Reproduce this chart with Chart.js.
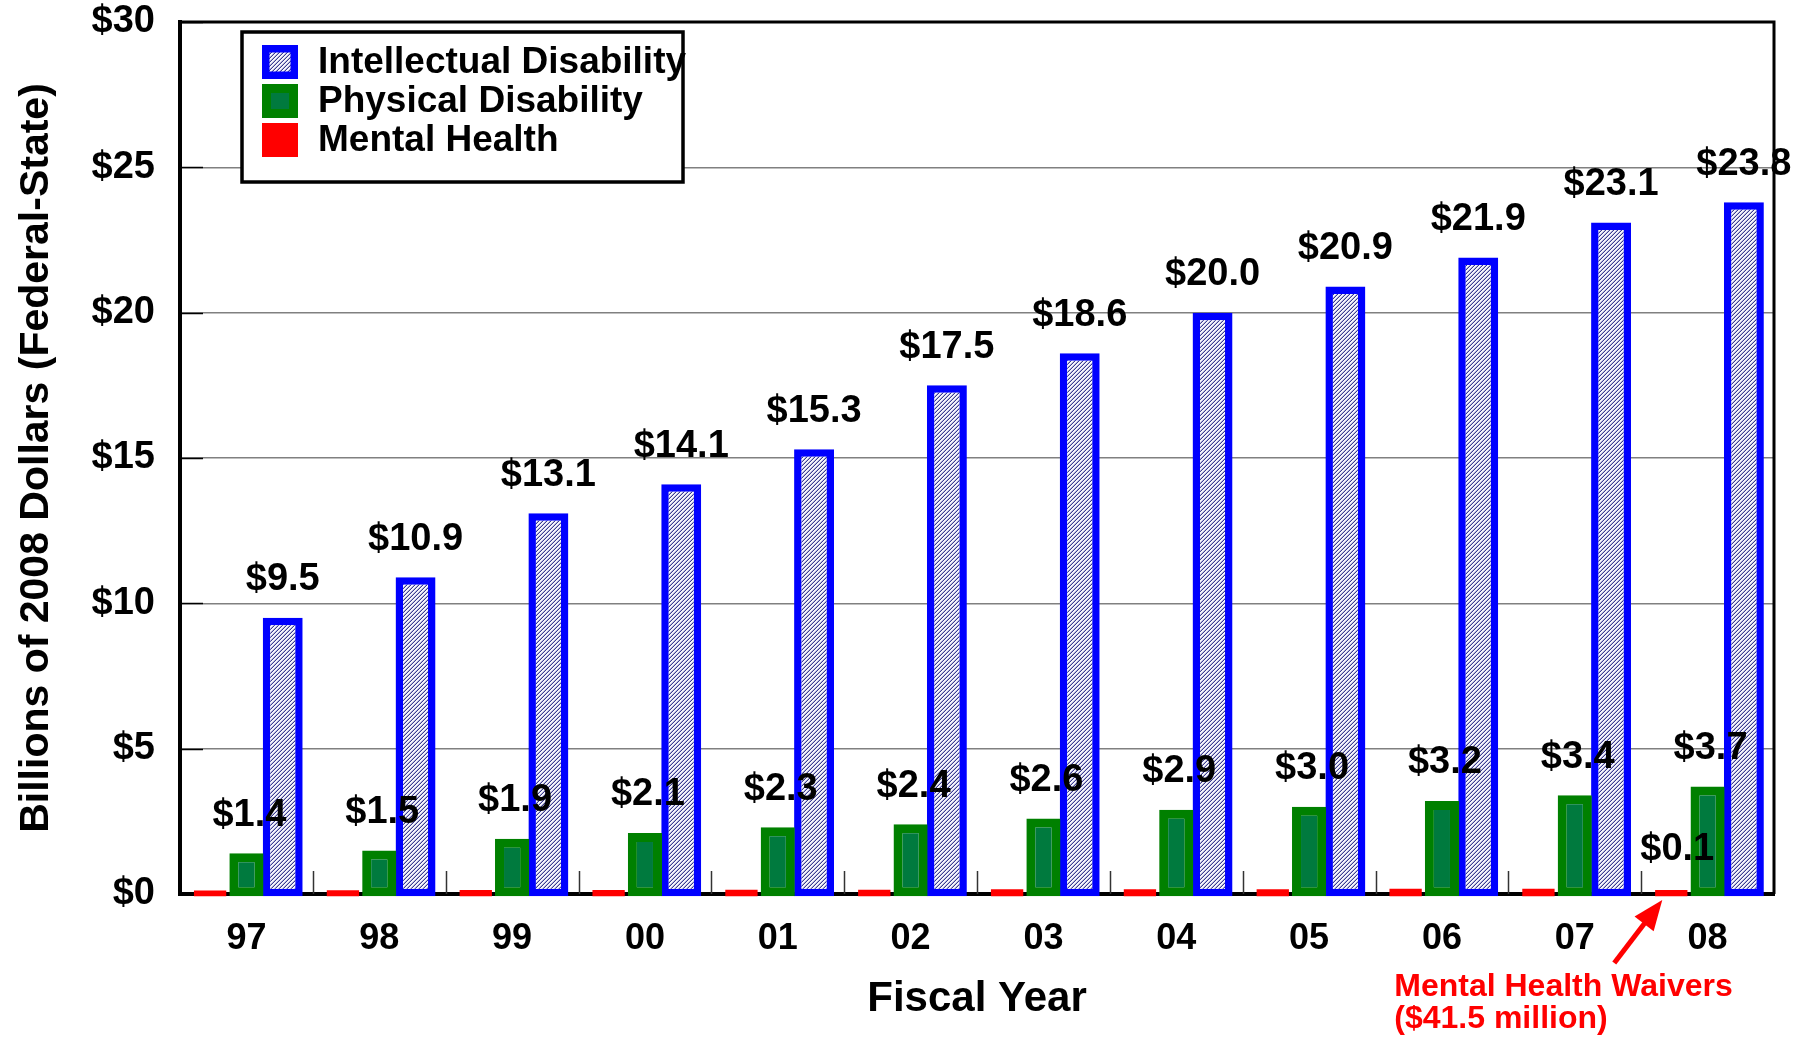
<!DOCTYPE html>
<html>
<head>
<meta charset="utf-8">
<title>Waiver spending by target group</title>
<script src="https://cdn.jsdelivr.net/npm/chart.js@4.4.1/dist/chart.umd.min.js"></script>
<style>
  html, body { margin: 0; padding: 0; background: #fff; }
  canvas { display: block; }
</style>
</head>
<body>
<canvas id="waiverChart" width="1806" height="1038"></canvas>
<script>
// data (billions of 2008 dollars)
const years = ['97', '98', '99', '00', '01', '02', '03', '04', '05', '06', '07', '08'];
const intellectual = [9.5, 10.9, 13.1, 14.1, 15.3, 17.5, 18.6, 20.0, 20.9, 21.9, 23.1, 23.8];
const physical = [1.4, 1.5, 1.9, 2.1, 2.3, 2.4, 2.6, 2.9, 3.0, 3.2, 3.4, 3.7];
const mental = [0.12, 0.13, 0.14, 0.14, 0.15, 0.15, 0.16, 0.16, 0.16, 0.18, 0.18, 0.14];
const yMax = 30;
const yStep = 5;
const noteLines = ['Mental Health Waivers', '($41.5 million)'];

Chart.defaults.font.family = "'Liberation Sans', Arial, sans-serif";
Chart.defaults.color = '#000';

// blue hatch fill like the original ////
function hatchPattern() {
    const c = document.createElement('canvas');
    c.width = 4;
    c.height = 4;
    const g = c.getContext('2d');
    const img = g.createImageData(4, 4);
    for (let py = 0; py < 4; py++) {
        for (let px = 0; px < 4; px++) {
            const k = (px + py) % 4;
            let col = [245, 245, 252];
            if (k === 3) col = [60, 60, 145];
            else if (k === 2) col = [180, 180, 215];
            const i = (py * 4 + px) * 4;
            img.data[i] = col[0];
            img.data[i + 1] = col[1];
            img.data[i + 2] = col[2];
            img.data[i + 3] = 255;
        }
    }
    g.putImageData(img, 0, 0);
    return g.createPattern(c, 'repeat');
}

const hatch = hatchPattern();
const boldFont = (size) => "bold " + size + "px 'Liberation Sans', Arial, sans-serif";

const decorations = {
    id: 'decorations',
    beforeDatasetsDraw(chart) {
        const { ctx, chartArea: area, scales: { x, y } } = chart;
        ctx.save();
        // short inner ticks on the value axis
        ctx.strokeStyle = '#000';
        ctx.lineWidth = 1.5;
        y.ticks.forEach(t => {
            const py = Math.round(y.getPixelForValue(t.value)) + 0.5;
            ctx.beginPath();
            ctx.moveTo(area.left, py);
            ctx.lineTo(area.left + 23, py);
            ctx.stroke();
        });
        // separators between years
        ctx.strokeStyle = '#333';
        for (let i = 1; i < years.length; i++) {
            const px = Math.round((x.getPixelForValue(i - 1) + x.getPixelForValue(i)) / 2) + 0.5;
            ctx.beginPath();
            ctx.moveTo(px, area.bottom);
            ctx.lineTo(px, area.bottom - 23);
            ctx.stroke();
        }
        ctx.restore();
    },
    afterDatasetsDraw(chart) {
        const { ctx, chartArea: area, scales: { y } } = chart;
        ctx.save();

        // value labels
        ctx.font = boldFont(38);
        ctx.fillStyle = '#000';
        ctx.textAlign = 'center';
        ctx.textBaseline = 'middle';
        const redBars = chart.getDatasetMeta(0).data;
        const greenBars = chart.getDatasetMeta(1).data;
        const blueBars = chart.getDatasetMeta(2).data;
        blueBars.forEach((bar, i) => {
            ctx.fillText('$' + intellectual[i].toFixed(1), bar.x, bar.y - 38);
        });
        greenBars.forEach((bar, i) => {
            ctx.fillText('$' + physical[i].toFixed(1), bar.x + 3, bar.y - 38);
        });
        const last = redBars.length - 1;
        const lastRed = redBars[last];
        ctx.fillText('$' + (mental[last]).toFixed(1), lastRed.x + 6, lastRed.y - 40);

        // top and right frame
        ctx.strokeStyle = '#000';
        ctx.lineWidth = 3;
        ctx.beginPath();
        ctx.moveTo(area.left, area.top);
        ctx.lineTo(area.right, area.top);
        ctx.lineTo(area.right, area.bottom);
        ctx.stroke();

        // legend box
        const lx = area.left + 62;
        const ly = area.top + 10;
        ctx.fillStyle = '#fff';
        ctx.fillRect(lx, ly, 441, 150);
        ctx.lineWidth = 3.5;
        ctx.strokeRect(lx, ly, 441, 150);
        const order = [2, 1, 0];
        ctx.font = boldFont(37);
        ctx.textAlign = 'left';
        order.forEach((d, row) => {
            const ds = chart.data.datasets[d];
            const sx = lx + 20;
            const sy = ly + 13 + row * 39;
            const bw = ds.borderWidth || 0;
            if (bw) {
                ctx.fillStyle = ds.borderColor;
                ctx.fillRect(sx, sy, 36, 34);
            }
            ctx.fillStyle = ds.backgroundColor;
            ctx.fillRect(sx + bw, sy + bw, 36 - 2 * bw, 34 - 2 * bw);
            ctx.fillStyle = '#000';
            ctx.fillText(ds.label, sx + 56, sy + 18);
        });

        // arrow to the 08 mental health bar
        const zeroY = y.getPixelForValue(0);
        const tipX = lastRed.x - 9;
        const tipY = zeroY + 6;
        const tailX = tipX - 48;
        const tailY = tipY + 63;
        const ang = Math.atan2(tipY - tailY, tipX - tailX);
        ctx.strokeStyle = '#ff0000';
        ctx.fillStyle = '#ff0000';
        ctx.lineWidth = 5;
        ctx.beginPath();
        ctx.moveTo(tailX, tailY);
        ctx.lineTo(tipX - 20 * Math.cos(ang), tipY - 20 * Math.sin(ang));
        ctx.stroke();
        ctx.beginPath();
        ctx.moveTo(tipX, tipY);
        ctx.lineTo(tipX - 30 * Math.cos(ang) + 12 * Math.sin(ang), tipY - 30 * Math.sin(ang) - 12 * Math.cos(ang));
        ctx.lineTo(tipX - 30 * Math.cos(ang) - 12 * Math.sin(ang), tipY - 30 * Math.sin(ang) + 12 * Math.cos(ang));
        ctx.closePath();
        ctx.fill();

        ctx.font = boldFont(32);
        ctx.textAlign = 'left';
        ctx.fillText(noteLines[0], tipX - 268, tipY + 87);
        ctx.fillText(noteLines[1], tipX - 268, tipY + 119);

        ctx.restore();
    }
};

const waiverChart = new Chart('waiverChart', {
    type: 'bar',
    data: {
        labels: years,
        datasets: [
            {
                label: 'Mental Health',
                data: mental,
                backgroundColor: '#ff0000',
                borderWidth: 0,
                barPercentage: 0.89
            },
            {
                label: 'Physical Disability',
                data: physical,
                backgroundColor: '#007a3e',
                borderColor: '#008000',
                borderWidth: 9,
                borderSkipped: false,
                barPercentage: 0.94
            },
            {
                label: 'Intellectual Disability',
                data: intellectual,
                backgroundColor: hatch,
                borderColor: '#0000ff',
                borderWidth: 7.5,
                borderSkipped: false,
                barPercentage: 1.1
            }
        ]
    },
    options: {
        responsive: false,
        animation: false,
        devicePixelRatio: 1,
        categoryPercentage: 0.82,
        base: -0.08,
        clip: 6,
        layout: {
            padding: { top: 22, right: 32, left: 0, bottom: 0 }
        },
        plugins: {
            legend: { display: false },
            tooltip: { enabled: false }
        },
        scales: {
            x: {
                grid: {
                    display: true,
                    drawOnChartArea: false,
                    drawTicks: false
                },
                border: { color: '#000', width: 4 },
                ticks: {
                    padding: 23,
                    font: { size: 36, weight: 'bold' }
                },
                title: {
                    display: true,
                    text: 'Fiscal Year',
                    font: { size: 42, weight: 'bold' },
                    padding: { top: 0, bottom: 13 }
                },
                afterFit(scale) {
                    scale.height = 144;
                }
            },
            y: {
                min: 0,
                max: yMax,
                grid: {
                    color: '#808080',
                    lineWidth: 1.5,
                    drawTicks: true,
                    tickLength: 25,
                    tickColor: 'rgba(0,0,0,0)'
                },
                border: { color: '#000', width: 4 },
                ticks: {
                    stepSize: yStep,
                    padding: 0,
                    font: { size: 38, weight: 'bold', lineHeight: 1.1 },
                    callback: (v) => '$' + v
                },
                title: {
                    display: true,
                    text: 'Billions of 2008 Dollars (Federal-State)',
                    font: { size: 41, weight: 'bold' },
                    padding: { top: 12, bottom: 0 }
                },
                afterFit(scale) {
                    scale.width = 180;
                }
            }
        }
    },
    plugins: [decorations]
});
</script>
</body>
</html>
